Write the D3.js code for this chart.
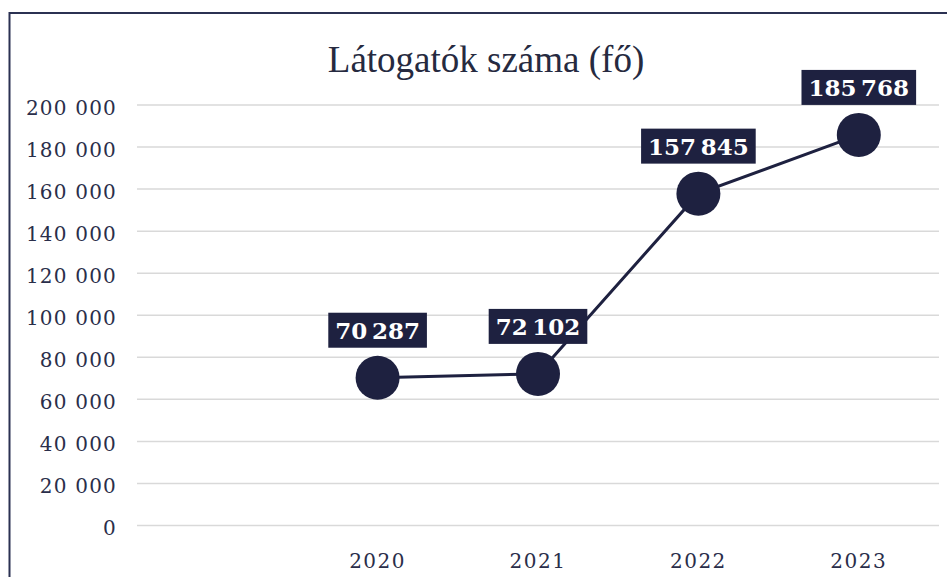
<!DOCTYPE html>
<html>
<head>
<meta charset="utf-8">
<script src="https://cdn.jsdelivr.net/npm/d3@7"></script>
<style>
  body { margin: 0; background: #fff; }
  svg { display: block; }
</style>
</head>
<body>
<div id="chart"></div>
<script>
// Data
const years = ["", "2020", "2021", "2022", "2023"];
const visitors = [null, 70287, 72102, 157845, 185768];
const yTicks = [0, 20000, 40000, 60000, 80000, 100000, 120000, 140000, 160000, 180000, 200000];
const chartTitle = "Látogatók száma (fő)";

const navy = "#1e2140";
const W = 947, H = 577;

const svg = d3.select("#chart").append("svg")
  .attr("width", W)
  .attr("height", H);

// frame (runs off the right and bottom edge)
svg.append("rect")
  .attr("x", 9.5).attr("y", 13)
  .attr("width", 1000).attr("height", 1000)
  .attr("fill", "#fff")
  .attr("stroke", "#2b3152")
  .attr("stroke-width", 2);

const x = d3.scaleBand().domain(years).range([137, 939]);
const y = d3.scaleLinear().domain([0, 200000]).range([525.5, 105]);

const fmt = d3.formatLocale({ decimal: ",", thousands: " ", grouping: [3], currency: ["", ""] }).format(",d");
const fmtLabel = d3.formatLocale({ decimal: ",", thousands: "\u2009", grouping: [3], currency: ["", ""] }).format(",d");

// title
svg.append("text")
  .attr("x", 486).attr("y", 72)
  .attr("text-anchor", "middle")
  .attr("font-family", "Liberation Serif, serif")
  .attr("font-size", 37)
  .attr("fill", "#262a40")
  .text(chartTitle);

// gridlines
svg.append("g")
  .selectAll("line")
  .data(yTicks)
  .join("line")
  .attr("x1", x.range()[0]).attr("x2", x.range()[1])
  .attr("y1", d => y(d)).attr("y2", d => y(d))
  .attr("stroke", "#d9d9d9")
  .attr("stroke-width", 1.5);

// y axis
const yAxis = svg.append("g")
  .attr("transform", "translate(117,0)")
  .call(d3.axisLeft(y).tickValues(yTicks).tickFormat(fmt).tickSize(0).tickPadding(0));
yAxis.select(".domain").remove();
yAxis.selectAll("text")
  .attr("dy", "0.45em")
  .attr("font-family", "DejaVu Serif, serif")
  .attr("font-size", 20)
  .attr("letter-spacing", 1.2)
  .attr("fill", "#2a2e4a");

// x axis
const xAxis = svg.append("g")
  .attr("transform", "translate(0,552)")
  .call(d3.axisBottom(x).tickSize(0).tickPadding(0));
xAxis.select(".domain").remove();
xAxis.selectAll("text")
  .attr("dy", "0.8em")
  .attr("font-family", "DejaVu Serif, serif")
  .attr("font-size", 20)
  .attr("letter-spacing", 1.5)
  .attr("fill", "#2a2e4a");

// line + points
const pts = years.map((yr, i) => ({ yr, v: visitors[i] })).filter(d => d.v != null);
const cx = d => x(d.yr) + x.bandwidth() / 2;

svg.append("path")
  .datum(pts)
  .attr("fill", "none")
  .attr("stroke", navy)
  .attr("stroke-width", 3)
  .attr("d", d3.line().x(cx).y(d => y(d.v)));

svg.append("g")
  .selectAll("circle")
  .data(pts)
  .join("circle")
  .attr("cx", cx)
  .attr("cy", d => y(d.v))
  .attr("r", 22)
  .attr("fill", navy);

// data labels
const labels = svg.append("g")
  .selectAll("g")
  .data(pts)
  .join("g")
  .attr("transform", d => `translate(${cx(d)},${y(d.v) - 30})`);

labels.append("text")
  .attr("text-anchor", "middle")
  .attr("y", -9)
  .attr("font-family", "DejaVu Serif, serif")
  .attr("font-weight", "bold")
  .attr("font-size", 23)
  .attr("fill", "#fff")
  .text(d => fmtLabel(d.v));

labels.each(function() {
  const g = d3.select(this);
  const bb = g.select("text").node().getBBox();
  g.insert("rect", "text")
    .attr("x", -bb.width / 2 - 7)
    .attr("y", -35)
    .attr("width", bb.width + 14)
    .attr("height", 35)
    .attr("fill", navy);
});
</script>
</body>
</html>
